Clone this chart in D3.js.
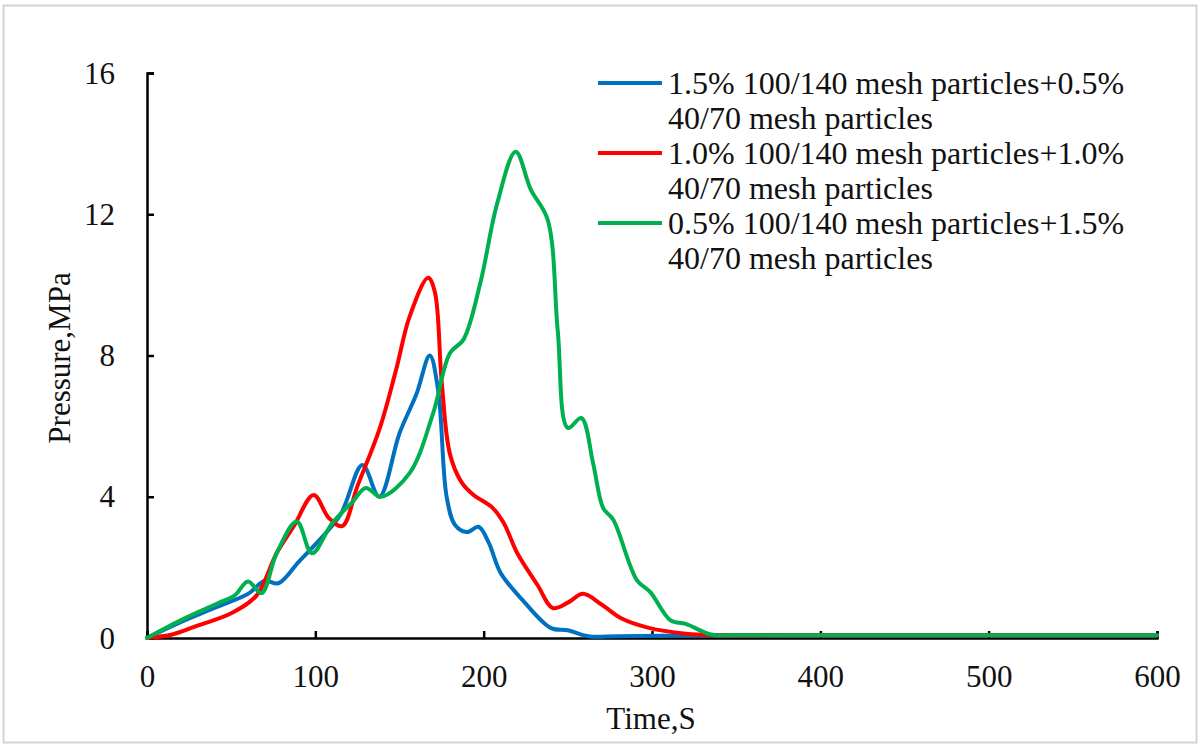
<!DOCTYPE html>
<html><head><meta charset="utf-8">
<script src="https://cdn.jsdelivr.net/npm/d3@7"></script>
<style>html,body{margin:0;padding:0;background:#fff;}svg{display:block;}</style>
</head><body>
<svg id="chart" width="1200" height="744"></svg>
<script>
// ---- data ----
const xTicks = [0, 100, 200, 300, 400, 500, 600];
const yTicks = [0, 4, 8, 12, 16];
const seriesNames = [
  ["1.5% 100/140 mesh particles+0.5%", "40/70 mesh particles"],
  ["1.0% 100/140 mesh particles+1.0%", "40/70 mesh particles"],
  ["0.5% 100/140 mesh particles+1.5%", "40/70 mesh particles"]
];
const seriesColors = ["#0070C0", "#FF0000", "#00B050"];
const blueTime = [0,20,40,60,70,78,90,100,115,128,138,150,160,168,173,178,183,190,197,203,210,223,240,250,262,280,340,400,450,500,550,600];
const bluePressure = [0,0.45,0.85,1.25,1.62,1.55,2.15,2.65,3.5,4.9,4.0,5.8,6.9,8.0,7.0,4.0,3.2,3.0,3.15,2.7,1.85,1.08,0.28,0.22,0.05,0.05,0.08,0.08,0.08,0.08,0.08,0.08];
const redTime = [0,15,30,50,65,77,87,99,108,116,125,138,148,156,167,171,175,180,187,194,205,212,220,232,241,250,259,270,282,297,320,340,400,450,500,550,600];
const redPressure = [0,0.1,0.35,0.7,1.2,2.4,3.15,4.05,3.4,3.17,4.3,5.9,7.6,9.1,10.2,9.8,7.3,5.2,4.4,4.05,3.7,3.25,2.4,1.5,0.85,1.0,1.25,0.95,0.55,0.3,0.12,0.08,0.08,0.08,0.08,0.08,0.08];
const greenTime = [0,20,43,52,60,68,77,89,98,110,122,130,139,156,170,180,188,198,208,219,228,238,244,250,258,265,271,277,291,299,311,320,335,350,400,450,500,550,600];
const greenPressure = [0,0.5,1.0,1.2,1.6,1.27,2.4,3.3,2.4,3.25,3.85,4.25,4.0,4.67,6.37,8.07,8.45,10.05,12.3,13.77,12.7,11.85,8.7,5.95,6.23,4.95,3.68,3.35,1.64,1.3,0.5,0.4,0.1,0.08,0.08,0.08,0.08,0.08,0.08];

const series = [
  {time: blueTime, pressure: bluePressure},
  {time: redTime, pressure: redPressure},
  {time: greenTime, pressure: greenPressure}
];

// ---- layout ----
const svg = d3.select("#chart");
const font = "'Liberation Serif','Times New Roman',serif";
svg.append("rect").attr("x", 3.5).attr("y", 5.5).attr("width", 1193).attr("height", 737)
  .attr("fill", "#fff").attr("stroke", "#d4d4d4").attr("stroke-width", 2);

const x = d3.scaleLinear().domain([0, 600]).range([147, 1157]);
const y = d3.scaleLinear().domain([0, 16]).range([638, 73]);

// axes (ticks inward)
const xAxis = svg.append("g").attr("transform", `translate(0,${y(0)})`)
  .call(d3.axisBottom(x).tickValues(xTicks).tickSize(-7).tickPadding(0).tickFormat(d3.format("d")));
const yAxis = svg.append("g").attr("transform", `translate(${x(0)},0)`)
  .call(d3.axisLeft(y).tickValues(yTicks).tickSize(-7).tickPadding(0).tickFormat(d3.format("d")));
[xAxis, yAxis].forEach(g => {
  g.select(".domain").attr("stroke", "#000").attr("stroke-width", 2.5);
  g.selectAll(".tick line").attr("stroke", "#000").attr("stroke-width", 2.5);
  g.selectAll("text").attr("font-family", font).attr("font-size", 31).attr("fill", "#111");
});
xAxis.selectAll("text").attr("y", 49).attr("dy", 0);
yAxis.selectAll("text").attr("x", -32).attr("dy", "0.33em");

// lines
const line = d3.line().x(d => x(d[0])).y(d => y(d[1])).curve(d3.curveCatmullRom.alpha(0.5));
series.forEach((s, i) => {
  svg.append("path").datum(d3.zip(s.time, s.pressure))
    .attr("d", line).attr("fill", "none").attr("stroke", seriesColors[i])
    .attr("stroke-width", 4).attr("stroke-linejoin", "round").attr("stroke-linecap", "round");
});

// axis titles
svg.append("text").attr("x", 651).attr("y", 729).attr("text-anchor", "middle")
  .attr("font-family", font).attr("font-size", 31).attr("fill", "#111").text("Time,S");
svg.append("text").attr("transform", "translate(70,358) rotate(-90)").attr("text-anchor", "middle")
  .attr("font-family", font).attr("font-size", 31).attr("fill", "#111").text("Pressure,MPa");

// legend
const leg = svg.append("g");
seriesNames.forEach((lines, i) => {
  const cy = 83 + i * 70;
  leg.append("line").attr("x1", 598).attr("x2", 662).attr("y1", cy).attr("y2", cy)
    .attr("stroke", seriesColors[i]).attr("stroke-width", 4);
  lines.forEach((t, j) => {
    leg.append("text").attr("x", 668).attr("y", cy + j * 35).attr("dy", "0.35em")
      .attr("font-family", font).attr("font-size", 32).attr("fill", "#111").text(t);
  });
});
</script>
</body></html>
